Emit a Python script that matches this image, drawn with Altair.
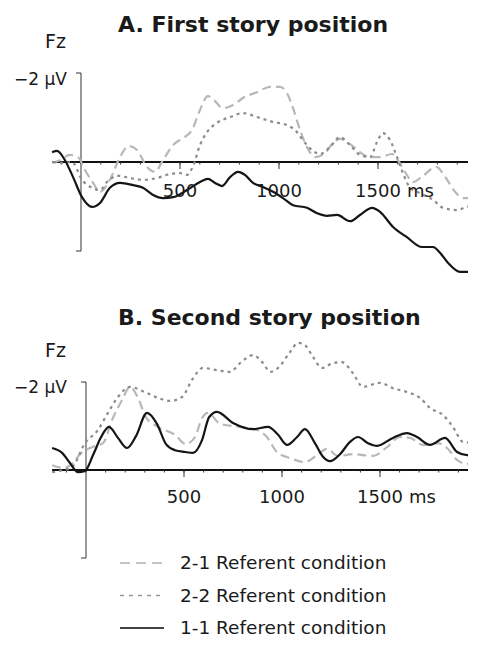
import altair as alt
import pandas as pd

# ---------------- Panel A: First story position (time ms, amplitude µV; negative plotted up)
A_T_11 = [-146, -121, -81, -40, 5, 56, 96, 146, 197, 263, 313, 364, 414, 465, 535, 601, 641, 677, 712, 753,
          793, 828, 869, 919, 970, 1020, 1071, 1141, 1192, 1242, 1293, 1359, 1409, 1470, 1510, 1576, 1646,
          1722, 1778, 1813, 1854, 1914, 1990]
A_V_11 = [-0.22, -0.25, -0.04, 0.34, 0.79, 1.01, 0.92, 0.58, 0.47, 0.52, 0.58, 0.74, 0.81, 0.79, 0.63, 0.45,
          0.38, 0.47, 0.54, 0.34, 0.22, 0.29, 0.47, 0.56, 0.67, 0.81, 0.97, 1.03, 1.15, 1.21, 1.19, 1.33, 1.19,
          1.03, 1.12, 1.46, 1.69, 1.91, 1.91, 2.04, 2.27, 2.47, 2.47]

A_T_21 = [-146, -106, -56, -15, 20, 61, 96, 146, 197, 242, 283, 333, 374, 414, 465, 515, 561, 601, 641, 672,
          717, 768, 818, 889, 955, 1005, 1040, 1071, 1106, 1141, 1182, 1232, 1273, 1308, 1359, 1409, 1460,
          1510, 1571, 1601, 1636, 1677, 1727, 1793, 1843, 1889, 1929, 1990]
A_V_21 = [0.02, -0.04, -0.16, -0.11, 0.18, 0.47, 0.67, 0.40, -0.11, -0.36, -0.27, 0.11, 0.22, -0.04, -0.38,
          -0.54, -0.72, -1.17, -1.48, -1.39, -1.21, -1.28, -1.44, -1.57, -1.69, -1.69, -1.55, -1.21, -0.72,
          -0.34, -0.11, -0.20, -0.43, -0.52, -0.40, -0.22, -0.11, -0.11, -0.18, -0.04, 0.22, 0.45, 0.31, 0.11,
          0.36, 0.67, 0.81, 0.81]

A_T_22 = [-141, -91, -45, 5, 56, 96, 131, 187, 247, 313, 384, 449, 500, 535, 566, 601, 636, 687, 753, 818,
          889, 970, 1040, 1091, 1121, 1172, 1207, 1258, 1308, 1359, 1409, 1460, 1495, 1525, 1561, 1596, 1626,
          1662, 1712, 1778, 1828, 1899, 1949, 1995]
A_V_22 = [0.00, 0.02, 0.00, 0.40, 0.58, 0.63, 0.45, 0.31, 0.36, 0.40, 0.36, 0.27, 0.25, 0.29, 0.09, -0.38,
          -0.67, -0.88, -1.01, -1.10, -1.01, -0.90, -0.83, -0.67, -0.49, -0.25, -0.18, -0.34, -0.56, -0.38,
          -0.16, -0.11, -0.45, -0.65, -0.49, -0.11, 0.25, 0.58, 0.70, 0.85, 1.03, 1.08, 1.01, 0.97]

# ---------------- Panel B: Second story position
B_T_11 = [-173, -122, -82, -41, -5, 36, 77, 117, 163, 209, 255, 311, 362, 408, 454, 505, 546, 592, 628, 668,
          750, 852, 929, 980, 1026, 1077, 1117, 1168, 1209, 1245, 1296, 1347, 1388, 1439, 1485, 1566, 1638,
          1689, 1755, 1832, 1893, 1944, 1995]
B_V_11 = [-0.50, -0.39, -0.16, 0.05, 0.02, -0.34, -0.75, -0.98, -0.73, -0.50, -0.77, -1.30, -1.05, -0.59,
          -0.45, -0.41, -0.39, -0.68, -1.20, -1.32, -1.07, -0.93, -0.98, -0.80, -0.57, -0.75, -0.93, -0.61,
          -0.30, -0.20, -0.36, -0.64, -0.75, -0.61, -0.55, -0.73, -0.84, -0.75, -0.57, -0.73, -0.41, -0.34, -0.34]

B_T_21 = [-173, -117, -66, -31, 31, 87, 133, 184, 224, 265, 306, 367, 454, 510, 556, 592, 622, 684, 786, 872,
          923, 974, 1041, 1117, 1179, 1230, 1286, 1362, 1464, 1536, 1602, 1653, 1719, 1791, 1842, 1893, 1944, 1995]
B_V_21 = [-0.11, -0.05, -0.16, -0.36, -0.52, -0.61, -1.14, -1.59, -1.89, -1.64, -1.20, -0.98, -0.80, -0.59,
          -0.75, -1.18, -1.30, -1.05, -0.98, -0.91, -0.75, -0.41, -0.27, -0.18, -0.34, -0.48, -0.32, -0.36,
          -0.32, -0.52, -0.75, -0.73, -0.57, -0.61, -0.50, -0.23, -0.14, -0.14]

B_T_22 = [-173, -117, -71, -5, 61, 112, 163, 224, 301, 367, 429, 490, 541, 597, 668, 735, 786, 852, 903, 939,
          980, 1041, 1082, 1117, 1158, 1204, 1260, 1306, 1362, 1413, 1500, 1566, 1653, 1704, 1755, 1821, 1872,
          1923, 1995]
B_V_22 = [0.05, 0.00, -0.07, -0.61, -0.91, -1.30, -1.66, -1.89, -1.77, -1.64, -1.57, -1.66, -2.05, -2.32,
          -2.27, -2.23, -2.43, -2.61, -2.43, -2.23, -2.32, -2.68, -2.89, -2.84, -2.57, -2.32, -2.43, -2.45,
          -2.20, -1.89, -1.98, -1.86, -1.75, -1.64, -1.41, -1.25, -0.98, -0.64, -0.61]

# ---------------- Axis / text content
X_TICK_VALUES = [500, 1000, 1500]
X_TICK_LABELS = ["500", "1000", "1500"]
X_UNIT = "ms"
MINOR_TICKS = list(range(-100, 2000, 100))
Y_TICKS = [-2, 2]
Y_LABEL = "\u22122 \u00b5V"
ELECTRODE = "Fz"
TITLES = ["A. First story position", "B. Second story position"]
LEGEND_LABELS = ["2-1 Referent condition", "2-2 Referent condition", "1-1 Referent condition"]

FONT = "DejaVu Sans"
W = 460

STYLE_21 = dict(color="#b8b8b8", strokeDash=[9, 5], strokeWidth=2.2)
STYLE_22 = dict(color="#8c8c8c", strokeDash=[3, 4], strokeWidth=2.2)
STYLE_11 = dict(color="#151515", strokeWidth=2.2)


def panel(title, series, height, xdom, ydom, title_y, fz_y, ylab_y, label_dy, legend=False):
    xs = alt.Scale(domain=xdom, nice=False, zero=False)
    ys = alt.Scale(domain=ydom, nice=False, zero=False, reverse=True)
    layers = []
    tmin = min(min(t) for t, v, s in series)
    tmax = max(max(t) for t, v, s in series)
    one = pd.DataFrame({"k": [0]})

    # zero line
    layers.append(alt.Chart(one).mark_rule(color="#111", strokeWidth=2, clip=True).encode(
        x=alt.XDatum(tmin, scale=xs, axis=None), x2=alt.datum(tmax),
        y=alt.YDatum(0, scale=ys, axis=None)))
    # minor ticks
    minor = [m for m in MINOR_TICKS if m <= xdom[1]]
    layers.append(alt.Chart(pd.DataFrame({"t": minor})).mark_rule(
        color="#333", strokeWidth=1, y2Offset=2.5).encode(
        x=alt.X("t:Q", scale=xs, axis=None), y=alt.YDatum(0, scale=ys, axis=None), y2=alt.datum(0)))
    # major ticks
    layers.append(alt.Chart(pd.DataFrame({"t": X_TICK_VALUES})).mark_rule(
        color="#333", strokeWidth=1, y2Offset=7).encode(
        x=alt.X("t:Q", scale=xs, axis=None), y=alt.YDatum(0, scale=ys, axis=None), y2=alt.datum(0)))
    # y axis line
    layers.append(alt.Chart(one).mark_rule(color="#333", strokeWidth=1).encode(
        x=alt.XDatum(0, scale=xs, axis=None),
        y=alt.YDatum(Y_TICKS[0], scale=ys, axis=None), y2=alt.datum(Y_TICKS[1])))
    # y ticks
    layers.append(alt.Chart(pd.DataFrame({"v": Y_TICKS})).mark_rule(
        color="#333", strokeWidth=1, x2Offset=-5).encode(
        x=alt.XDatum(0, scale=xs, axis=None), x2=alt.datum(0),
        y=alt.Y("v:Q", scale=ys, axis=None)))

    # data lines
    for t, v, style in series:
        df = pd.DataFrame({"t": t, "v": v})
        layers.append(alt.Chart(df).mark_line(interpolate="monotone", strokeCap="butt", clip=True,
                                              **style).encode(
            x=alt.X("t:Q", scale=xs, axis=None), y=alt.Y("v:Q", scale=ys, axis=None)))

    # tick labels
    layers.append(alt.Chart(pd.DataFrame({"t": X_TICK_VALUES, "lab": X_TICK_LABELS})).mark_text(
        font=FONT, fontSize=18, color="#1a1a1a", dy=label_dy, baseline="alphabetic", align="center").encode(
        x=alt.X("t:Q", scale=xs, axis=None), y=alt.YDatum(0, scale=ys, axis=None), text="lab:N"))
    layers.append(alt.Chart(pd.DataFrame({"t": [X_TICK_VALUES[-1]], "lab": [X_UNIT]})).mark_text(
        font=FONT, fontSize=18, color="#1a1a1a", dy=label_dy, dx=29, baseline="alphabetic", align="left").encode(
        x=alt.X("t:Q", scale=xs, axis=None), y=alt.YDatum(0, scale=ys, axis=None), text="lab:N"))

    # texts: title, electrode, y label
    layers.append(alt.Chart(pd.DataFrame({"s": [title]})).mark_text(
        font=FONT, fontSize=22, fontWeight="bold", color="#1a1a1a", align="left", baseline="alphabetic").encode(
        x=alt.value(110), y=alt.value(title_y), text="s:N"))
    layers.append(alt.Chart(pd.DataFrame({"s": [ELECTRODE]})).mark_text(
        font=FONT, fontSize=19, color="#1a1a1a", align="left", baseline="alphabetic").encode(
        x=alt.value(37), y=alt.value(fz_y), text="s:N"))
    layers.append(alt.Chart(pd.DataFrame({"s": [Y_LABEL]})).mark_text(
        font=FONT, fontSize=17, color="#1a1a1a", align="right", baseline="alphabetic").encode(
        x=alt.value(59), y=alt.value(ylab_y), text="s:N"))

    if legend:
        leg_styles = [dict(color="#b0b0b0", strokeDash=[10, 6], strokeWidth=1.4),
                      dict(color="#9a9a9a", strokeDash=[4, 5], strokeWidth=1.4),
                      dict(color="#444444", strokeWidth=2)]
        for i, (lab, st) in enumerate(zip(LEGEND_LABELS, leg_styles)):
            yy = 278 + i * 32.5
            layers.append(alt.Chart(one).mark_rule(**st).encode(
                x=alt.value(112), x2=alt.value(156), y=alt.value(yy)))
            layers.append(alt.Chart(pd.DataFrame({"s": [lab]})).mark_text(
                font=FONT, fontSize=18.5, color="#1a1a1a", align="left", baseline="middle").encode(
                x=alt.value(172), y=alt.value(yy), text="s:N"))

    return alt.layer(*layers).properties(width=W, height=height)


panel_a = panel(TITLES[0],
                [(A_T_21, A_V_21, STYLE_21), (A_T_22, A_V_22, STYLE_22), (A_T_11, A_V_11, STYLE_11)],
                277, [-368.7, 1954.5], [-3.461, 2.764], title_y=24, fz_y=40, ylab_y=77, label_dy=35)
panel_b = panel(TITLES[1],
                [(B_T_21, B_V_21, STYLE_21), (B_T_22, B_V_22, STYLE_22), (B_T_11, B_V_11, STYLE_11)],
                352, [-398, 1949], [-4.205, 3.795], title_y=40, fz_y=72, ylab_y=108, label_dy=33, legend=True)

chart = alt.vconcat(panel_a, panel_b, spacing=0).properties(padding=0).configure_view(
    strokeWidth=0, stroke="transparent")

chart.save("out.html", embed_options={"renderer": "svg", "actions": False})
